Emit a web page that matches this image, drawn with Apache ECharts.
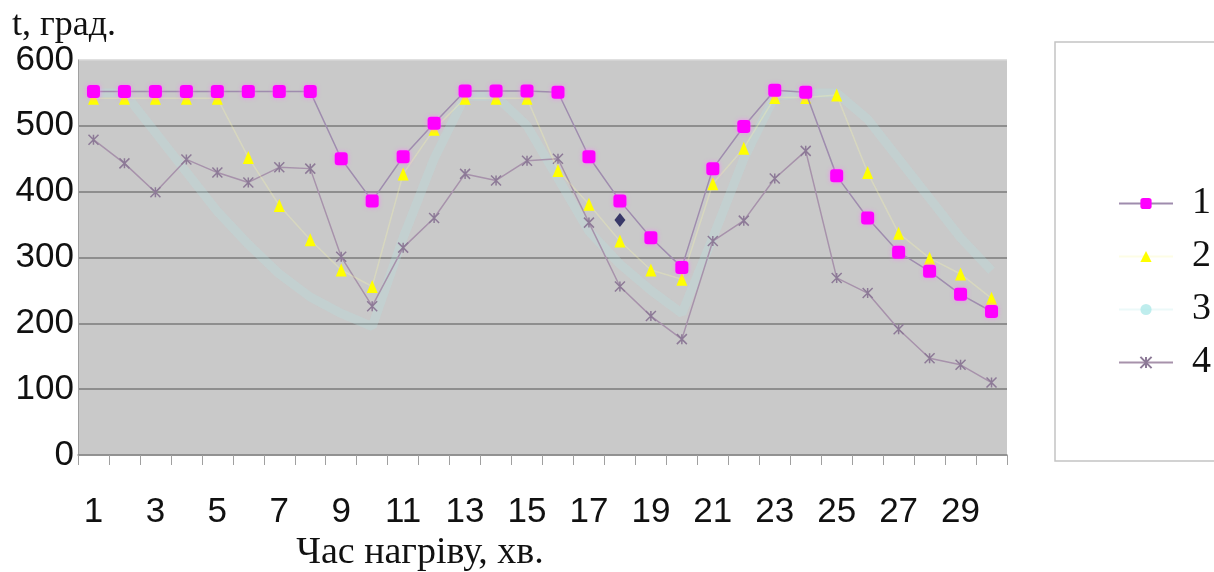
<!DOCTYPE html>
<html>
<head>
<meta charset="utf-8">
<script src="https://cdn.jsdelivr.net/npm/echarts@6/dist/echarts.min.js"></script>
<style>
  html, body { margin: 0; padding: 0; background: #ffffff; }
  #chart { width: 1214px; height: 572px; }
</style>
</head>
<body>
<div id="chart"></div>
<script>
// Heating time, minutes
const minutes = ['1','2','3','4','5','6','7','8','9','10','11','12','13','14','15',
                 '16','17','18','19','20','21','22','23','24','25','26','27','28','29','30'];

// Temperature curves, degrees
const curve1 = [552, 552, 552, 552, 552, 552, 552, 552, 450, 386, 453, 504, 553, 553, 553,
                551, 453, 386, 330, 285, 435, 499, 554, 551, 424, 360, 308, 279, 244, 218];
const curve2 = [542, 542, 542, 542, 542, 452, 379, 327, 281, 256, 427, 495, 542, 542, 542,
                432, 381, 325, 281, 267, 412, 466, 543, 543, 547, 429, 337, 299, 275, 238];
const curve3 = [550, 550, 490, 430, 370, 320, 275, 240, 215, 195, 330, 450, 545, 545, 500,
                420, 340, 290, 250, 215, 330, 450, 545, 550, 550, 510, 450, 390, 330, 280];
const curve4 = [479, 443, 399, 449, 429, 414, 437, 435, 301, 226, 315, 360, 427, 417, 447,
                450, 353, 256, 211, 176, 325, 356, 420, 462, 269, 246, 191, 147, 137, 110];

// Single separate reading
const spotMinute = '18';
const spotValue = 357;

const seriesNames = ['1', '2', '3', '4'];
const yTicks = { min: 0, max: 600, step: 100 };

const chart = echarts.init(document.getElementById('chart'), null, { renderer: 'canvas' });

const asterisk = 'path://M0,0L10,10M10,0L0,10M5,0L5,10';

chart.setOption({
  animation: false,
  backgroundColor: '#ffffff',
  grid: {
    left: 78, right: 207, top: 60, bottom: 117,
    show: true, backgroundColor: '#c9c9c9', borderWidth: 0
  },
  graphic: [
    {
      type: 'rect', z: 0,
      shape: { x: 1055, y: 42, width: 170, height: 419 },
      style: { fill: '#ffffff', stroke: '#c4c4c4', lineWidth: 1.5 }
    },
    {
      type: 'text', left: 12, top: 8,
      style: { text: 't, град.', font: '36px "Liberation Serif"', fill: '#111111' }
    },
    {
      type: 'text', x: 420, y: 534,
      style: { text: 'Час нагріву, хв.', font: '38px "Liberation Serif"', fill: '#111111', align: 'center' }
    }
  ],
  legend: {
    orient: 'vertical',
    left: 1113, top: 179,
    itemWidth: 54, itemHeight: 14, itemGap: 14,
    data: seriesNames,
    textStyle: {
      fontFamily: 'Liberation Serif', fontSize: 38, color: '#111111',
      lineHeight: 39, padding: [0, 0, 0, 14]
    }
  },
  xAxis: {
    type: 'category',
    data: minutes,
    boundaryGap: true,
    axisLine: { show: true, lineStyle: { color: '#8c8c8c', width: 1.5 } },
    axisTick: { show: true, interval: 0, length: 10, lineStyle: { color: '#a0a0a0' } },
    axisLabel: {
      interval: 1, margin: 40,
      fontFamily: 'Liberation Sans', fontSize: 35, color: '#111111'
    },
    splitLine: { show: false }
  },
  yAxis: {
    type: 'value',
    min: yTicks.min, max: yTicks.max, interval: yTicks.step,
    axisLine: { show: true, lineStyle: { color: '#a0a0a0' } },
    axisTick: { show: false },
    axisLabel: { margin: 4, fontFamily: 'Liberation Sans', fontSize: 35, color: '#111111' },
    splitLine: {
      show: true,
      lineStyle: {
        color: ['#8c8c8c', '#7a7a7a', '#7a7a7a', '#7a7a7a', '#7a7a7a', '#7a7a7a', '#d6d6d6'],
        width: 1.5
      }
    }
  },
  series: [
    {
      name: '3', type: 'line', data: curve3, z: 2,
      symbol: 'circle', symbolSize: 5, showSymbol: false,
      lineStyle: { color: 'rgba(178,232,232,0.25)', width: 9 },
      itemStyle: { color: 'rgba(175,232,232,0.8)' }
    },
    {
      name: '4', type: 'line', data: curve4, z: 3,
      symbol: asterisk, symbolSize: 10,
      lineStyle: { color: '#a792ab', width: 1.5 },
      itemStyle: { color: 'rgba(0,0,0,0)', borderColor: '#8d7a97', borderWidth: 1.5 }
    },
    {
      name: '2', type: 'line', data: curve2, z: 4,
      symbol: 'triangle', symbolSize: [11, 13],
      lineStyle: { color: 'rgba(250,250,170,0.3)', width: 1.5 },
      itemStyle: { color: '#ffff00' }
    },
    {
      name: '1', type: 'line', data: curve1, z: 5,
      symbol: 'roundRect', symbolSize: 13,
      lineStyle: { color: '#9f8cae', width: 1.5 },
      itemStyle: { color: '#ff00ff', shadowBlur: 4, shadowColor: 'rgba(255,120,255,0.8)' }
    },
    {
      name: 'spot', type: 'scatter', z: 6,
      data: [[spotMinute, spotValue]],
      symbol: 'diamond', symbolSize: [11, 14],
      itemStyle: { color: '#141450' }
    }
  ]
});
</script>
</body>
</html>
